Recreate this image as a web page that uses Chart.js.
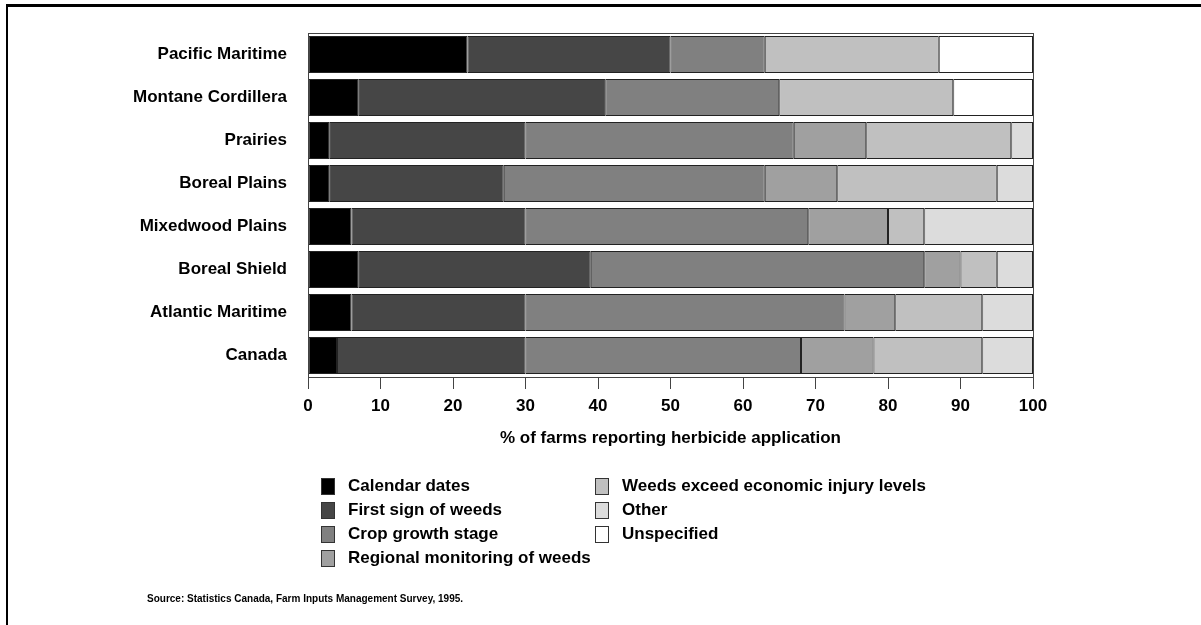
<!DOCTYPE html>
<html>
<head>
<meta charset="utf-8">
<script src="https://cdn.jsdelivr.net/npm/chart.js@4"></script>
<style>
  body { margin: 0; background: #fff; font-family: "Liberation Sans", Arial, sans-serif; }
  #wrap { position: absolute; left: 0; top: 0; width: 1201px; height: 625px; }
  #frameTop { position: absolute; left: 6px; top: 4px; width: 1195px; height: 3px; background: #000; }
  #frameLeft { position: absolute; left: 6px; top: 4px; width: 2px; height: 621px; background: #000; }
  .legend-item { position: absolute; font-weight: bold; font-size: 17px; color: #000; white-space: nowrap; }
  .legend-item span.box { position: absolute; left: 0; top: 0; width: 12px; height: 15px; border: 1px solid #333; }
  .legend-item span.text { position: absolute; left: 27px; top: -2px; line-height: 20px; }
  #source { position: absolute; left: 147px; top: 593px; font-size: 10px; font-weight: bold; color: #000; }
</style>
</head>
<body>
<div id="wrap">
  <canvas id="chart" width="1201" height="625"></canvas>
</div>
<div id="frameTop"></div>
<div id="frameLeft"></div>
<div id="legend"></div>
<div id="source">Source: Statistics Canada, Farm Inputs Management Survey, 1995.</div>
<script>
const ecozones = [
  "Pacific Maritime",
  "Montane Cordillera",
  "Prairies",
  "Boreal Plains",
  "Mixedwood Plains",
  "Boreal Shield",
  "Atlantic Maritime",
  "Canada",
]

const seriesNames = [
  "Calendar dates",
  "First sign of weeds",
  "Crop growth stage",
  "Regional monitoring of weeds",
  "Weeds exceed economic injury levels",
  "Other",
  "Unspecified",
]

const calendarDates = [22, 7, 3, 3, 6, 7, 6, 4]
const firstSign = [28, 34, 27, 24, 24, 32, 24, 26]
const cropStage = [13, 24, 37, 36, 39, 46, 44, 38]
const regionalMonitoring = [0, 0, 10, 10, 11, 5, 7, 10]
const weedsExceed = [24, 24, 20, 22, 5, 5, 12, 15]
const other = [0, 0, 3, 5, 15, 5, 7, 7]
const unspecified = [13, 11, 0, 0, 0, 0, 0, 0]

const xTicks = [0, 10, 20, 30, 40, 50, 60, 70, 80, 90, 100]

const colors = ["#000000", "#464646", "#808080", "#a0a0a0", "#c0c0c0", "#dcdcdc", "#ffffff"]
const values = [calendarDates, firstSign, cropStage, regionalMonitoring, weedsExceed, other, unspecified]

const font = "'Liberation Sans', Arial, sans-serif"

// box round the plot area (top and right sides too)
const plotFrame = {
  id: "plotFrame",
  afterDatasetsDraw(chart) {
    const { ctx, chartArea } = chart
    ctx.save()
    ctx.strokeStyle = "#444"
    ctx.lineWidth = 1
    ctx.strokeRect(chartArea.left + 0.5, chartArea.top + 0.5, chartArea.right - chartArea.left, chartArea.bottom - chartArea.top)
    ctx.restore()
  },
}

const config = {
  type: "bar",
  data: {
    labels: ecozones,
    datasets: seriesNames.map(function (name, i) {
      return {
        label: name,
        data: values[i],
        backgroundColor: colors[i],
        borderColor: "#222",
        borderWidth: 1,
        borderSkipped: false,
        barPercentage: 0.86,
        categoryPercentage: 1,
      }
    }),
  },
  options: {
    indexAxis: "y",
    responsive: false,
    animation: false,
    layout: {
      padding: { left: 0, top: 33, right: 168, bottom: 172 },
    },
    plugins: {
      legend: { display: false },
      tooltip: { enabled: false },
    },
    scales: {
      x: {
        stacked: true,
        min: 0,
        max: 100,
        afterBuildTicks: function (scale) {
          scale.ticks = xTicks.map(function (v) { return { value: v } })
        },
        afterFit: function (scale) {
          scale.height = 76
        },
        grid: {
          drawOnChartArea: false,
          drawTicks: true,
          tickLength: 12,
          color: "#444",
        },
        border: { display: true, color: "#444" },
        ticks: {
          color: "#000",
          padding: 7,
          font: { family: font, size: 17, weight: "bold" },
        },
        title: {
          display: true,
          text: "% of farms reporting herbicide application",
          color: "#000",
          padding: { top: 2 },
          font: { family: font, size: 17, weight: "bold" },
        },
      },
      y: {
        stacked: true,
        afterFit: function (scale) {
          scale.width = 308
        },
        grid: { display: false, drawTicks: false },
        border: { display: true, color: "#444" },
        ticks: {
          color: "#000",
          padding: 21,
          font: { family: font, size: 17, weight: "bold" },
        },
      },
    },
  },
  plugins: [plotFrame],
}

const chart = new Chart(document.getElementById("chart"), config)

// legend in two columns below the axis
const legend = document.getElementById("legend")
const legendRows = [478, 502, 526, 550]
seriesNames.forEach(function (name, i) {
  const col = i < 4 ? 0 : 1
  const row = i < 4 ? i : i - 4
  const item = document.createElement("div")
  item.className = "legend-item"
  item.style.left = (col == 0 ? 321 : 595) + "px"
  item.style.top = legendRows[row] + "px"
  item.innerHTML = '<span class="box" style="background:' + colors[i] + '"></span><span class="text">' + name + "</span>"
  legend.appendChild(item)
})
</script>
</body>
</html>
